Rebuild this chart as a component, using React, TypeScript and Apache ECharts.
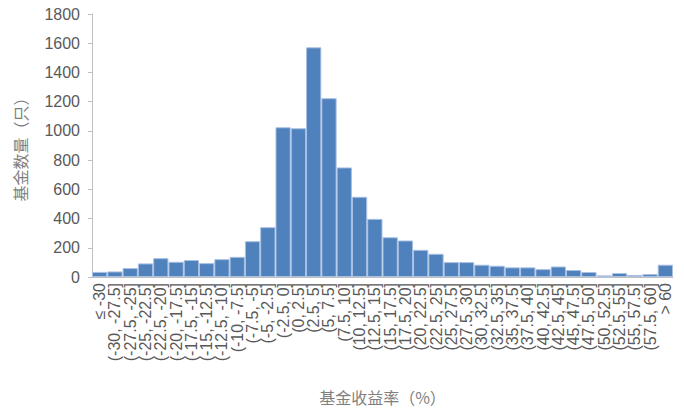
import React, { useEffect, useRef } from "react";
import * as echarts from "echarts";

const categories = [
  "≤ -30", "(-30, -27.5]", "(-27.5, -25]", "(-25, -22.5]", "(-22.5, -20]", "(-20, -17.5]",
  "(-17.5, -15]", "(-15, -12.5]", "(-12.5, -10]", "(-10, -7.5]", "(-7.5, -5]", "(-5, -2.5]",
  "(-2.5, 0]", "(0, 2.5]", "(2.5, 5]", "(5, 7.5]", "(7.5, 10]", "(10, 12.5]", "(12.5, 15]",
  "(15, 17.5]", "(17.5, 20]", "(20, 22.5]", "(22.5, 25]", "(25, 27.5]", "(27.5, 30]",
  "(30, 32.5]", "(32.5, 35]", "(35, 37.5]", "(37.5, 40]", "(40, 42.5]", "(42.5, 45]",
  "(45, 47.5]", "(47.5, 50]", "(50, 52.5]", "(52.5, 55]", "(55, 57.5]", "(57.5, 60]", "> 60",
];

const fundCounts = [
  35, 38, 61, 93, 129, 104, 116, 95, 122, 138, 245, 341,
  1025, 1018, 1572, 1224, 750, 549, 398, 272, 250, 186, 159, 102, 102,
  84, 77, 66, 66, 54, 72, 48, 34, 11, 27, 14, 20, 84,
];

const yTicks = { min: 0, max: 1800, interval: 200 };

export default function App() {
  const ref = useRef<HTMLDivElement>(null);
  useEffect(() => {
    if (!ref.current) return;
    const chart = echarts.init(ref.current, null, { renderer: "svg" });
    chart.setOption({
      animation: false,
      grid: { left: 92, right: 11, top: 14, bottom: 132, containLabel: false },
      xAxis: {
        type: "category",
        data: categories,
        name: "基金收益率（%）",
        nameLocation: "middle",
        nameGap: 112,
        nameTextStyle: { color: "#7f7f7f", fontSize: 16, fontFamily: "Noto Sans CJK SC" },
        axisLine: { lineStyle: { color: "#bfbfbf", width: 1 } },
        axisTick: { show: false },
        axisLabel: {
          rotate: 90,
          interval: 0,
          color: "#595959",
          fontSize: 16,
          fontFamily: "Liberation Sans",
          margin: 6,
        },
      },
      yAxis: {
        type: "value",
        min: yTicks.min,
        max: yTicks.max,
        interval: yTicks.interval,
        name: "基金数量（只）",
        nameLocation: "middle",
        nameGap: 64,
        nameRotate: 90,
        nameTextStyle: { color: "#7f7f7f", fontSize: 16, fontFamily: "Noto Sans CJK SC" },
        axisLine: { show: true, lineStyle: { color: "#bfbfbf", width: 1 } },
        axisTick: { show: true, length: 4, lineStyle: { color: "#bfbfbf" } },
        splitLine: { show: false },
        axisLabel: {
          color: "#595959",
          fontSize: 16,
          fontFamily: "Liberation Sans",
          margin: 12,
          formatter: (v: number) => String(v),
        },
      },
      series: [
        {
          type: "bar",
          data: fundCounts,
          barCategoryGap: "0%",
          itemStyle: { color: "#4f81bd", borderColor: "#a9c0e2", borderWidth: 1 },
        },
      ],
    });
    return () => chart.dispose();
  }, []);
  return <div ref={ref} style={{ width: 684, height: 410, position: "absolute", left: 0, top: 0 }} />;
}
